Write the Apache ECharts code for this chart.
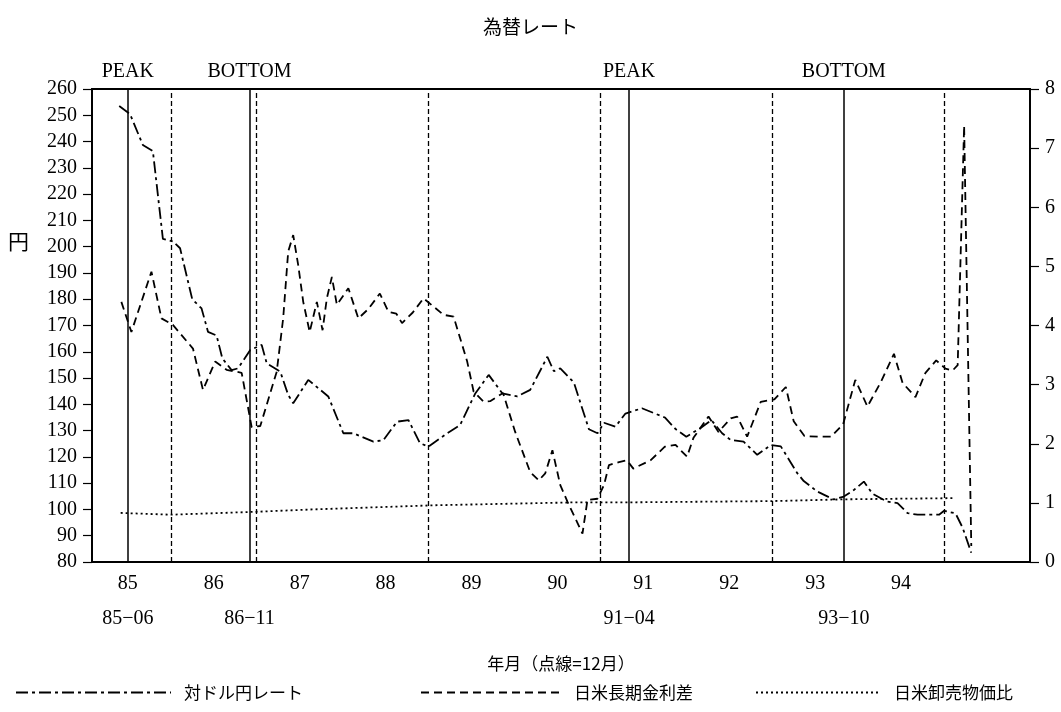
<!DOCTYPE html>
<html>
<head>
<meta charset="utf-8">
<title>為替レート</title>
<script src="https://cdn.jsdelivr.net/npm/echarts@6/dist/echarts.min.js"></script>
<style>html,body{margin:0;padding:0;background:#fff}#main{width:1061px;height:712px}</style>
</head>
<body>
<div id="main"></div>
<script type="text/javascript">
// x位置は月番号（85-01 = 0）
var yearLabels = ['85','86','87','88','89','90','91','92','93','94'];
var yearMonths = ['85-06','86-06','87-06','88-06','89-06','90-06','91-06','92-06','93-06','94-06'];
var turnMonths = ['85-06','86-11','91-04','93-10'];
var turnNames  = ['PEAK','BOTTOM','PEAK','BOTTOM'];
var turnLabels = ['85−06','86−11','91−04','93−10'];
var decMonths  = ['85-12','86-12','88-12','90-12','92-12','94-12'];

// 対ドル円レート（左軸・円）
var rateX = [3.8,5.3,7.1,8.5,9.9,11.3,12.3,14.0,15.3,16.2,17.4,18.2,19.5,20.4,22.1,23.7,24.4,26.3,27.4,28.1,
  30.2,33.0,35.1,36.5,39.3,40.7,42.6,44.2,45.8,47.0,49.6,51.4,53.5,55.4,57.3,59.4,61.2,63.6,64.5,65.4,
  67.3,69.4,70.6,71.5,73.1,74.5,76.8,80.0,81.5,83.0,85.0,86.5,88.0,89.2,91.0,92.9,94.8,96.2,98.5,99.4,
  101.3,103.6,105.0,106.4,107.8,109.0,111.0,112.5,113.9,115.3,118.3,119.0,120.6,121.6,122.8];
var rateY = [253.5,250.5,238.7,236.4,203,202,199.4,180,176.5,167.6,166.2,157.5,153,153.7,160.7,162.6,155.6,152.4,143.6,140.4,
  149.3,143,129,129,125.8,126.4,133.4,134,125.2,123.9,129,132.1,144,151.2,144.2,143,145.5,158.1,152.6,153.7,
  148.3,130.5,129,133,131.5,136.5,138.5,135,130.6,127.7,131,134,129,126.4,125.8,120.8,124.5,124,113.8,110.8,
  106.8,103.8,104.9,107.4,110.6,106,103,102.4,98.6,98,98,99.5,98.5,93,83.5];

// 日米長期金利差（右軸）
var spreadX = [4.1,5.5,8.3,9.7,11.3,14.1,15.5,17.2,18.8,20.9,22.3,23.5,25.8,26.7,27.4,28.1,28.8,29.5,30.4,31.4,
  32.2,32.8,33.5,34.2,35.8,37.2,38.6,40.2,41.4,42.5,43.3,44.8,46.3,47.7,49.1,50.5,52.4,53.3,54.7,55.6,
  57.4,59.1,61.2,62.4,63.3,64.3,65.4,66.4,67.5,68.5,69.2,70.6,71.5,72.2,73.6,74.7,75.6,78.0,80.0,81.5,
  83.1,84.0,86.1,87.5,89.2,90.1,91.5,93.4,95.3,96.9,98.0,99.5,101.5,103.2,104.9,106.6,108.3,110.2,112.0,113.2,
  115.0,116.4,117.9,119.2,120.2,120.9,121.8,122.8];
var spreadY = [4.40,3.89,4.91,4.12,4.01,3.61,2.91,3.39,3.25,3.20,2.28,2.30,3.22,4.12,5.25,5.53,5.02,4.40,3.89,4.40,
  3.92,4.46,4.82,4.35,4.63,4.12,4.28,4.54,4.23,4.20,4.04,4.22,4.46,4.32,4.18,4.15,3.39,2.88,2.71,2.72,
  2.86,2.20,1.52,1.38,1.50,1.89,1.30,1.02,0.74,0.48,1.05,1.07,1.30,1.64,1.69,1.72,1.58,1.72,1.95,1.98,
  1.78,2.10,2.46,2.20,2.43,2.46,2.12,2.71,2.75,2.96,2.38,2.13,2.12,2.12,2.33,3.08,2.63,3.05,3.52,3.03,
  2.79,3.20,3.41,3.27,3.24,3.33,7.38,0.27];

// 日米卸売物価比（右軸）
var priceX = [4,11,23,31,48,64,68,76,95,105,120.4];
var priceY = [0.83,0.80,0.85,0.89,0.96,1.00,1.01,1.01,1.03,1.06,1.08];

var serif = '"Liberation Serif", "DejaVu Serif", serif';
var jp = '"Noto Sans CJK JP", sans-serif';

function m(s) {
  var p = s.split('-');
  return (parseInt(p[0], 10) - 85) * 12 + (parseInt(p[1], 10) - 1);
}
function pairs(xs, ys) {
  return xs.map(function (x, i) { return [x, ys[i]]; });
}

var yearPos = yearMonths.map(m);
var turnPos = turnMonths.map(m);

var marks = [];
turnPos.forEach(function (x, i) {
  marks.push({ xAxis: x, lineStyle: { type: 'solid', width: 1.5, color: '#000' },
    label: { show: true, position: 'end', formatter: turnNames[i], distance: 7,
      color: '#000', fontFamily: serif, fontSize: 20 } });
});
decMonths.forEach(function (s) {
  marks.push({ xAxis: m(s), lineStyle: { type: [5, 3], width: 1.3, color: '#000' }, label: { show: false } });
});

var legendText = { fontFamily: jp, fontSize: 17, color: '#000', padding: [0, 0, 0, 8] };

// 目盛り線だけを描く補助軸（軸の外側）
function tickAxis(pos, min, max, step) {
  return {
    type: 'value', min: min, max: max, interval: step, position: pos, offset: 9,
    axisLine: { show: false, onZero: false },
    axisTick: { show: true, inside: true, length: 9, lineStyle: { color: '#000', width: 1.2 } },
    axisLabel: { show: false }, splitLine: { show: false }
  };
}

var myChart = echarts.init(document.getElementById('main'));
var option = {
  animation: false,
  backgroundColor: '#fff',
  title: {
    text: '為替レート', left: 'center', top: 12,
    textStyle: { fontFamily: jp, fontSize: 19, fontWeight: 'normal', color: '#000' }
  },
  graphic: [
    { type: 'text', left: 8, top: 231, style: { text: '円', fontFamily: jp, fontSize: 21, fill: '#000' } }
  ],
  legend: [
    { data: ['対ドル円レート'], left: 10, top: 679, itemWidth: 155, itemHeight: 14,
      itemStyle: { opacity: 0 }, textStyle: legendText },
    { data: ['日米長期金利差'], left: 415, top: 679, itemWidth: 140, itemHeight: 14,
      itemStyle: { opacity: 0 }, textStyle: legendText },
    { data: ['日米卸売物価比'], left: 750, top: 679, itemWidth: 125, itemHeight: 14,
      itemStyle: { opacity: 0 }, textStyle: legendText }
  ],
  grid: { left: 92, right: 31, top: 89, bottom: 150, show: true, borderColor: '#000', borderWidth: 1.8,
    backgroundColor: 'transparent' },
  xAxis: [
    {
      type: 'value', min: 0, max: 131,
      name: '年月（点線=12月）', nameLocation: 'middle', nameGap: 93,
      nameTextStyle: { fontFamily: jp, fontSize: 17, color: '#000' },
      axisLine: { show: true, onZero: false, lineStyle: { color: '#000', width: 2 } },
      axisTick: { show: false },
      splitLine: { show: false },
      axisLabel: {
        customValues: yearPos, margin: 12, color: '#000', fontFamily: serif, fontSize: 20,
        formatter: function (v) { return yearLabels[yearPos.indexOf(v)]; }
      }
    },
    {
      type: 'value', min: 0, max: 131, position: 'bottom', offset: 35,
      axisLine: { show: false, onZero: false }, axisTick: { show: false }, splitLine: { show: false },
      axisLabel: {
        customValues: turnPos, margin: 12, color: '#000', fontFamily: serif, fontSize: 20,
        formatter: function (v) { return turnLabels[turnPos.indexOf(v)]; }
      }
    }
  ],
  yAxis: [
    {
      type: 'value', min: 80, max: 260, interval: 10,
      axisLine: { show: true, onZero: false, lineStyle: { color: '#000', width: 2 } },
      axisTick: { show: false },
      splitLine: { show: false },
      axisLabel: { margin: 15, color: '#000', fontFamily: serif, fontSize: 20 }
    },
    {
      type: 'value', min: 0, max: 8, interval: 1, position: 'right',
      axisLine: { show: true, onZero: false, lineStyle: { color: '#000', width: 1.8 } },
      axisTick: { show: false },
      splitLine: { show: false },
      axisLabel: { margin: 15, color: '#000', fontFamily: serif, fontSize: 20 }
    },
    tickAxis('left', 80, 260, 10),
    tickAxis('right', 0, 8, 1)
  ],
  series: [
    {
      name: '対ドル円レート', type: 'line', yAxisIndex: 0, symbol: 'none',
      lineStyle: { color: '#000', width: 1.8, type: [12, 4, 3, 4] },
      itemStyle: { color: '#000' },
      data: pairs(rateX, rateY)
    },
    {
      name: '日米長期金利差', type: 'line', yAxisIndex: 1, symbol: 'none',
      lineStyle: { color: '#000', width: 1.8, type: [8, 5] },
      itemStyle: { color: '#000' },
      data: pairs(spreadX, spreadY),
      markLine: { silent: true, symbol: ['none', 'none'], animation: false, data: marks }
    },
    {
      name: '日米卸売物価比', type: 'line', yAxisIndex: 1, symbol: 'none',
      lineStyle: { color: '#000', width: 1.8, type: [2, 3] },
      itemStyle: { color: '#000' },
      data: pairs(priceX, priceY)
    }
  ]
};
myChart.setOption(option);
</script>
</body>
</html>
